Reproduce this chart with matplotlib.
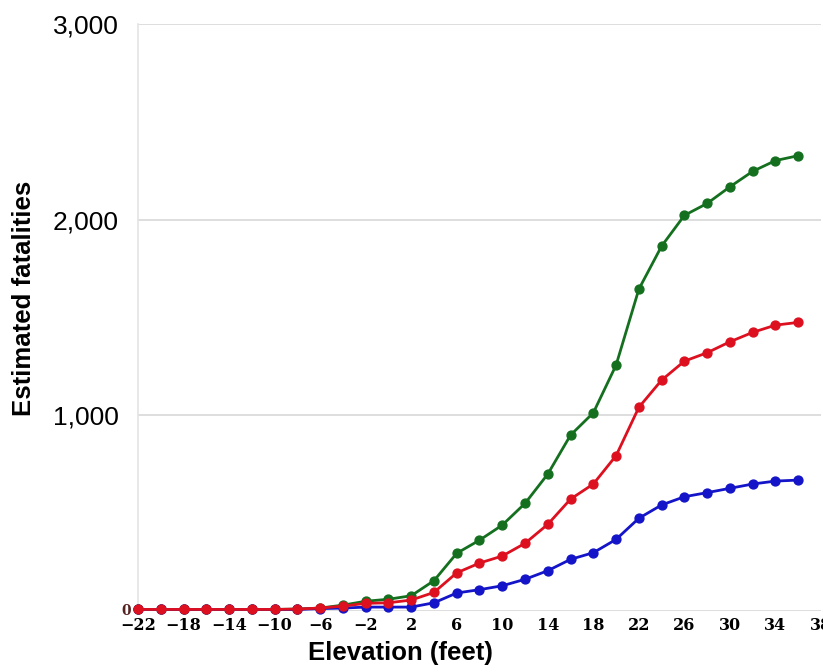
import matplotlib
matplotlib.use("Agg")
import matplotlib.pyplot as plt

elevation = [-22, -20, -18, -16, -14, -12, -10, -8, -6, -4, -2, 0, 2, 4, 6, 8,
             10, 12, 14, 16, 18, 20, 22, 24, 26, 28, 30, 32, 34, 36]
green_vals = [8, 8, 8, 8, 8, 8, 8, 10, 15, 30, 50, 60, 78, 155, 295, 362,
              439, 550, 700, 899, 1013, 1257, 1645, 1865, 2022, 2083, 2168, 2247, 2302, 2327]
red_vals = [8, 8, 8, 8, 8, 8, 8, 10, 15, 25, 39, 42, 56, 95, 195, 245,
            281, 346, 443, 572, 649, 794, 1041, 1180, 1277, 1320, 1376, 1424, 1461, 1475]
blue_vals = [8, 8, 8, 8, 8, 8, 8, 8, 12, 15, 20, 20, 20, 42, 92, 109,
             129, 162, 206, 264, 298, 366, 474, 542, 584, 605, 627, 649, 664, 669]

xtick_vals = [-22, -18, -14, -10, -6, -2, 2, 6, 10, 14, 18, 22, 26, 30, 34, 38]
ytick_vals = [0, 1000, 2000, 3000]
ytick_labels = ["", "1,000", "2,000", "3,000"]

W, H = 823, 672
fig = plt.figure(figsize=(W / 100, H / 100), dpi=100)
ax = fig.add_axes([138 / W, 1 - 611 / H, (821 - 138) / W, (611 - 24) / H])

for vals, col in [(green_vals, "#14701f"), (blue_vals, "#1414c8"), (red_vals, "#dd1020")]:
    ax.plot(elevation, vals, color=col, lw=2.0, marker="o", ms=6.4,
            mec=col, mfc=col, clip_on=False, zorder=3)

ax.set_xlim(-22, 38)
ax.set_ylim(0, 3000)
ax.set_yticks(ytick_vals)
ax.set_yticklabels(ytick_labels, fontfamily="Liberation Sans", fontsize=19)
ax.set_xticks(xtick_vals)
ax.set_xticklabels([str(v).replace("-", "\u2212") for v in xtick_vals],
                   fontfamily="DejaVu Serif", fontweight="bold", fontsize=11.5)
ax.tick_params(axis="y", length=0, pad=14)
ax.tick_params(axis="x", length=0, pad=4)
ax.grid(axis="y", color="#d8d8d8", lw=1.2)
ax.set_axisbelow(True)
for s in ["top", "right", "bottom"]:
    ax.spines[s].set_visible(False)
ax.spines["left"].set_color("#e4e4e4")
ax.spines["left"].set_linewidth(1.2)

# small "0" label at the origin
ax.text(-22.6, 0, "0", transform=ax.transData, ha="right", va="center",
        fontfamily="DejaVu Serif", fontweight="bold", fontsize=10, color="#552222")

fig.text(24 / W, 1 - 298 / H, "Estimated fatalities", rotation=90, ha="center",
         va="center", fontfamily="Liberation Sans", fontweight="bold", fontsize=18.5)
fig.text(400 / W, 1 - 653 / H, "Elevation (feet)", ha="center", va="center",
         fontfamily="Liberation Sans", fontweight="bold", fontsize=18.5)

fig.savefig("out.png", dpi=100)
